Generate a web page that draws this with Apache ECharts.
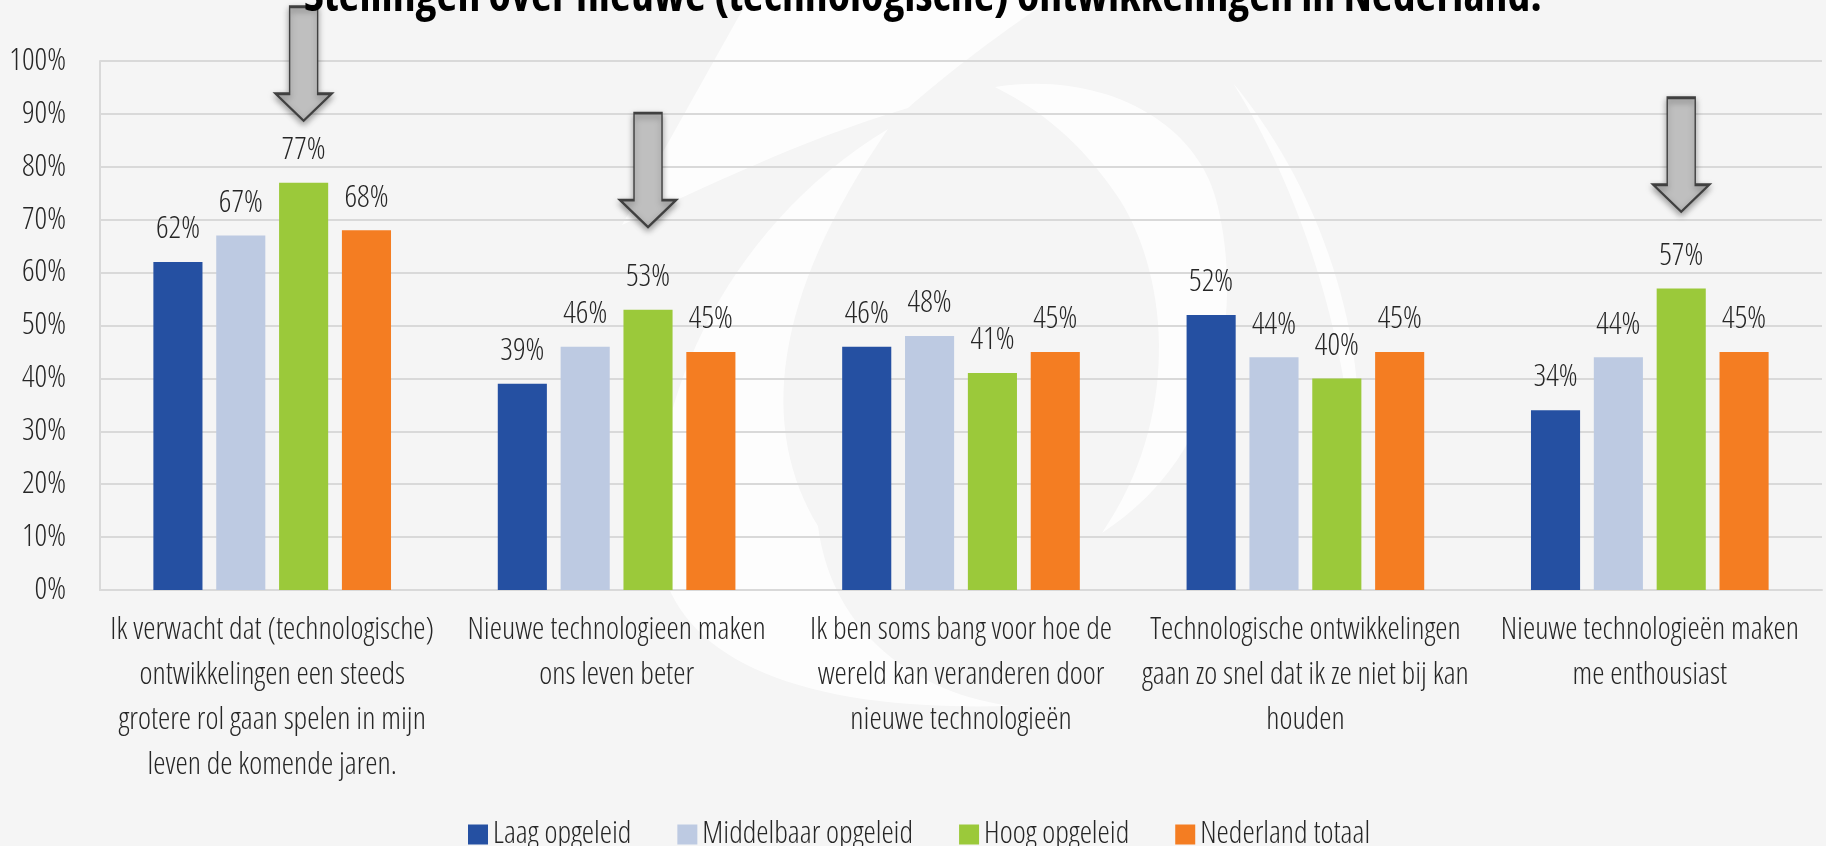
<!DOCTYPE html>
<html>
<head>
<meta charset="utf-8">
<script src="https://cdn.jsdelivr.net/npm/echarts@6/dist/echarts.min.js"></script>
<style>
html, body { margin: 0; padding: 0; background: #f5f5f5; }
#main { width: 1826px; height: 846px; }
</style>
</head>
<body>
<div id="main"></div>
<script>
var categories = [
    'Ik verwacht dat (technologische)\nontwikkelingen een steeds\ngrotere rol gaan spelen in mijn\nleven de komende jaren.',
    'Nieuwe technologieen maken\nons leven beter',
    'Ik ben soms bang voor hoe de\nwereld kan veranderen door\nnieuwe technologieën',
    'Technologische ontwikkelingen\ngaan zo snel dat ik ze niet bij kan\nhouden',
    'Nieuwe technologieën maken\nme enthousiast'
];
var laag = [62, 39, 46, 52, 34];
var middelbaar = [67, 46, 48, 44, 44];
var hoog = [77, 53, 41, 40, 57];
var totaal = [68, 45, 45, 45, 45];
// arrows: [category index, value where the tip points]
var arrows = [[0, 88.7], [1, 68.6], [4, 71.5]];

// Open Sans is variable, "condensed" gives the narrow light cut
var FONT = "'Open Sans', sans-serif";
var LIGHT = '300 condensed';
var TXT = '#262626';
var ARROW = 'path://M14,0 L42,0 L42,87 L56,87 L28,114 L0,87 L14,87 Z';

// faint white logo in the background (decoration only)
var swoosh = [
    'M748,0 L1050,0 C990,40 940,80 908,108 C800,140 700,190 622,225 Z',
    'M888,129 C720,230 640,420 660,560 C680,660 800,712 1010,706 C900,690 830,620 818,526 C760,430 770,300 888,129 Z',
    'M995,87 C1100,70 1200,120 1218,207 C1240,300 1230,450 1102,533 C1180,420 1170,280 1120,200 C1080,140 1040,110 995,87 Z',
    'M1233,83 C1300,190 1345,330 1355,470 C1372,360 1330,200 1233,83 Z'
];
swoosh.forEach(function (p, i) {
    echarts.graphic.registerShape('swoosh' + i, echarts.graphic.extendPath(p));
});

var myChart = echarts.init(document.getElementById('main'));

function bar(name, data, color, extra) {
    var s = {
        name: name,
        type: 'bar',
        data: data,
        barGap: '28%',
        barCategoryGap: '31%',
        itemStyle: { color: color },
        label: {
            show: true,
            position: 'top',
            distance: 17,
            formatter: '{c}%',
            color: TXT,
            fontFamily: FONT,
            fontWeight: LIGHT,
            fontSize: 31
        }
    };
    if (extra) {
        s.markPoint = extra;
    }
    return s;
}

myChart.setOption({
    backgroundColor: '#f5f5f5',
    textStyle: { fontFamily: FONT },
    graphic: swoosh.map(function (p, i) {
        return {
            type: 'swoosh' + i,
            z: -10,
            silent: true,
            style: { fill: 'rgba(255,255,255,0.8)' }
        };
    }),
    title: {
        text: 'Stellingen over nieuwe (technologische) ontwikkelingen in Nederland.',
        left: 918,
        textAlign: 'center',
        top: -30,
        textStyle: {
            color: '#000',
            fontFamily: FONT,
            fontWeight: 'bold condensed',
            fontSize: 45.7
        }
    },
    legend: {
        left: 463,
        top: 814,
        icon: 'rect',
        itemWidth: 20,
        itemHeight: 20,
        itemGap: 46,
        textStyle: { color: TXT, fontFamily: FONT, fontWeight: LIGHT, fontSize: 31 },
        data: ['Laag opgeleid', 'Middelbaar opgeleid', 'Hoog opgeleid', 'Nederland totaal']
    },
    grid: {
        left: 100,
        right: 4,
        top: 61,
        bottom: 256
    },
    xAxis: {
        type: 'category',
        data: categories,
        z: 1,
        axisLine: { lineStyle: { color: '#d9d9d9', width: 2 } },
        axisTick: { show: false },
        axisLabel: {
            interval: 0,
            margin: 18,
            color: TXT,
            fontFamily: FONT,
            fontWeight: LIGHT,
            fontSize: 31,
            lineHeight: 45
        }
    },
    yAxis: {
        type: 'value',
        min: 0,
        max: 100,
        interval: 10,
        z: 1,
        axisLine: { show: true, lineStyle: { color: '#d9d9d9', width: 2 } },
        axisTick: { show: false },
        splitLine: { lineStyle: { color: '#d9d9d9', width: 2 } },
        axisLabel: {
            formatter: '{value}%',
            margin: 34,
            color: TXT,
            fontFamily: FONT,
            fontWeight: LIGHT,
            fontSize: 31
        }
    },
    series: [
        bar('Laag opgeleid', laag, '#2550a2'),
        bar('Middelbaar opgeleid', middelbaar, '#bdcae2'),
        bar('Hoog opgeleid', hoog, '#9bc93a', {
            symbol: ARROW,
            symbolSize: [56, 114],
            symbolOffset: [0, '-50%'],
            label: { show: false },
            itemStyle: {
                color: '#bfbfbf',
                borderColor: '#404040',
                borderWidth: 2,
                shadowBlur: 6,
                shadowOffsetY: 3,
                shadowColor: 'rgba(0,0,0,0.35)'
            },
            data: arrows.map(function (a) { return { coord: [a[0], a[1]] }; })
        }),
        bar('Nederland totaal', totaal, '#f47d22')
    ]
});
</script>
</body>
</html>
